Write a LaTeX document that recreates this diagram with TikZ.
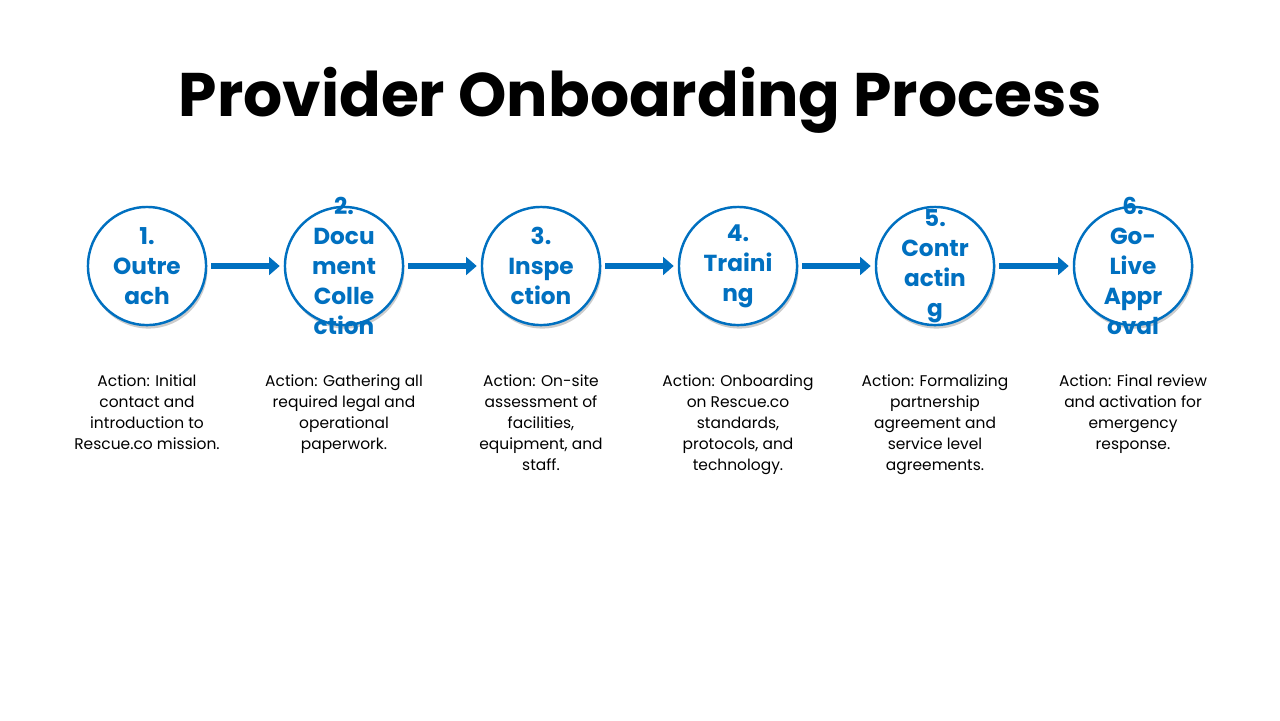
\documentclass[tikz,border=0pt]{standalone}
\usepackage{fontspec}
\setmainfont{Poppins}
\usetikzlibrary{shadows,arrows.meta}
\definecolor{bl}{HTML}{0070C0}
\begin{document}
\begin{tikzpicture}[x=0.01cm,y=0.01cm,
  stepc/.style={circle,draw=bl,line width=0.7pt,fill=white,minimum size=1.18cm,inner sep=0pt,
    drop shadow={shadow xshift=0.4pt,shadow yshift=-1pt,fill=black!40,opacity=0.5}},
  lab/.style={text=bl,font=\fontsize{6.6pt}{8.5pt}\selectfont\bfseries,align=center},
  desc/.style={font=\fontsize{4.4pt}{6pt}\selectfont,align=center,anchor=north},
  arr/.style={draw=bl,line width=1.7pt,-{Triangle[length=3pt,width=5pt]}}]
\useasboundingbox (0,0) rectangle (1280,720);
\node[font=\fontsize{17.5pt}{20pt}\selectfont\bfseries] (t) at (640,620) {Provider Onboarding Process};
\foreach \i/\x/\l/\d in {1/147/{1.\\Outre\\ach}/{Action: Initial\\contact and\\introduction to\\Rescue.co mission.},
 2/344/{2.\\Docu\\ment\\Colle\\ction}/{Action: Gathering all\\required legal and\\operational\\paperwork.},
 3/541/{3.\\Inspe\\ction}/{Action: On-site\\assessment of\\facilities,\\equipment, and\\staff.},
 4/738/{4.\\Traini\\ng}/{Action: Onboarding\\on Rescue.co\\standards,\\protocols, and\\technology.},
 5/935/{5.\\Contr\\actin\\g}/{Action: Formalizing\\partnership\\agreement and\\service level\\agreements.},
 6/1133/{6.\\Go-\\Live\\Appr\\oval}/{Action: Final review\\and activation for\\emergency\\response.}}{
 \node[stepc] (c\i) at (\x,454) {};
 \node[lab] (l\i) at (\x,454) {\l};
 \node[desc] (d\i) at (\x,358) {\d};
}
\foreach \a/\b in {1/2,2/3,3/4,4/5,5/6}{
 \draw[arr] ([xshift=0.04cm]c\a.east) -- ([xshift=-0.04cm]c\b.west);
}
\end{tikzpicture}
\end{document}
